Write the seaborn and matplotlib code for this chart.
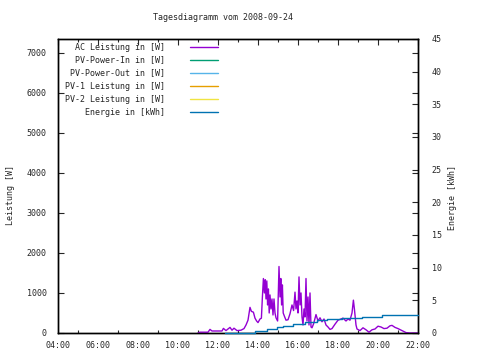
import matplotlib
matplotlib.use("Agg")
import matplotlib.pyplot as plt
import seaborn as sns
import pandas as pd
from matplotlib.ticker import MultipleLocator

# ---- data ----
title = "Tagesdiagramm vom 2008-09-24"
series_names = ["AC Leistung in [W]", "PV-Power-In in [W]", "PV-Power-Out in [W]",
                "PV-1 Leistung in [W]", "PV-2 Leistung in [W]", "Energie in [kWh]"]
series_colors = ["#9400D3", "#009E73", "#56B4E9", "#E69F00", "#F0E442", "#0072B2"]

ac_time = [11.0, 11.1, 11.5, 11.6, 11.7, 12.2, 12.27, 12.4, 12.6, 12.7, 12.8, 12.95, 13.15, 13.3,
           13.4, 13.5, 13.6, 13.67, 13.77, 13.85, 13.93, 14.0, 14.1, 14.17, 14.22, 14.27, 14.32,
           14.36, 14.4, 14.44, 14.48, 14.52, 14.56, 14.6, 14.65, 14.7, 14.75, 14.8, 14.85, 14.9,
           14.98, 15.05, 15.1, 15.14, 15.18, 15.22, 15.26, 15.32, 15.4, 15.5, 15.6, 15.7, 15.78,
           15.85, 15.9, 15.95, 16.0, 16.05, 16.1, 16.15, 16.2, 16.25, 16.3, 16.35, 16.4, 16.45,
           16.5, 16.55, 16.6, 16.65, 16.7, 16.78, 16.9, 17.0, 17.1, 17.2, 17.3, 17.4, 17.5, 17.6,
           17.7, 17.85, 18.0, 18.1, 18.25, 18.4, 18.5, 18.6, 18.7, 18.77, 18.82, 18.9, 18.95, 19.1,
           19.25, 19.4, 19.55, 19.7, 19.85, 20.0, 20.15, 20.3, 20.45, 20.6, 20.7, 20.85, 21.0,
           21.2, 21.4, 21.6, 22.0]
ac_watt = [0, 20, 20, 90, 50, 50, 115, 60, 140, 70, 120, 60, 70, 110,
           200, 320, 640, 540, 520, 370, 300, 260, 350, 370, 900, 1360, 1000,
           1330, 850, 1300, 700, 1100, 500, 950, 600, 850, 450, 850, 500, 380,
           300, 1660, 900, 1360, 700, 1200, 500, 420, 320, 330, 480, 700, 560,
           1020, 600, 800, 500, 1400, 700, 1000, 400, 200, 600, 400, 1360, 300,
           900, 200, 1000, 150, 130, 230, 460, 300, 380, 280, 350, 200, 150, 90,
           110, 220, 320, 340, 370, 300, 350, 320, 500, 820, 600, 200, 100, 60,
           130, 80, 20, 80, 100, 170, 150, 110, 120, 180, 190, 140, 110,
           60, 10, 0, 0]

energy_time = [12.35, 13.85, 14.43, 14.93, 15.27, 15.77, 16.35, 16.93, 17.43, 18.18, 18.6,
               19.18, 20.18, 22.0]
energy_kwh = [0.0, 0.35, 0.65, 0.86, 1.06, 1.37, 1.72, 1.98, 2.08, 2.23, 2.33, 2.48, 2.69, 2.69]

x_ticks = [4, 6, 8, 10, 12, 14, 16, 18, 20, 22]
x_ticklabels = ["04:00", "06:00", "08:00", "10:00", "12:00", "14:00", "16:00", "18:00",
                "20:00", "22:00"]
y1_ticks = [0, 1000, 2000, 3000, 4000, 5000, 6000, 7000]
y2_ticks = [0, 5, 10, 15, 20, 25, 30, 35, 40, 45]

# ---- style ----
sns.set_style("white")
plt.rcParams["font.family"] = ["DejaVu Sans Mono", "DejaVu Sans"]
plt.rcParams["font.size"] = 6

fig = plt.figure(figsize=(4.8, 3.6), dpi=100)
ax = fig.add_axes([58 / 480, 27 / 360, 360 / 480, 294 / 360])
ax2 = ax.twinx()

df_ac = pd.DataFrame({"t": ac_time, "w": ac_watt})
df_en = pd.DataFrame({"t": energy_time, "e": energy_kwh})

sns.lineplot(data=df_ac, x="t", y="w", ax=ax, color=series_colors[0], linewidth=1.0,
             estimator=None, sort=False, clip_on=False, zorder=4)
sns.lineplot(data=df_en, x="t", y="e", ax=ax2, color=series_colors[5], linewidth=1.0,
             estimator=None, sort=False, drawstyle="steps-post", clip_on=False, zorder=4)

ax.set_xlim(4, 22)
ax.set_ylim(0, 7340)
ax2.set_ylim(0, 45)

ax.set_xticks(x_ticks)
ax.set_xticklabels(x_ticklabels)
ax.xaxis.set_minor_locator(MultipleLocator(1))
ax.set_yticks(y1_ticks)
ax.set_yticklabels([str(v) for v in y1_ticks])
ax2.set_yticks(y2_ticks)
ax2.set_yticklabels([str(v) for v in y2_ticks])

ax.tick_params(axis="both", which="major", direction="in", length=4, width=0.8,
               top=True, right=True, labelright=False, pad=8, labelsize=6)
ax.tick_params(axis="x", which="minor", direction="in", length=2, width=0.8,
               top=True, bottom=True)
ax.tick_params(axis="x", pad=6)
ax2.tick_params(axis="y", which="major", direction="in", length=4, width=0.8,
                pad=10, labelsize=6)

for a in (ax, ax2):
    for s in a.spines.values():
        s.set_visible(True)
        s.set_color("black")
        s.set_linewidth(1.0)

ax.set_xlabel("")
ax.set_ylabel("Leistung [W]", fontsize=6)
ax.yaxis.set_label_coords((15 - 58) / 360, (333 - 195) / 294)
ax2.set_ylabel("Energie [kWh]", fontsize=6)
ax2.yaxis.set_label_coords((448 - 58) / 360, (333 - 198) / 294)

fig.text(223 / 480, 1 - 18 / 360, title, ha="center", va="center", fontsize=6)

# ---- key (top-left, right-aligned texts, sample lines) ----
for i, (name, col) in enumerate(zip(series_names, series_colors)):
    yy = 1 - (47 + 13.05 * i - 39) / 294
    ax.text((165 - 58) / 360, yy, name, transform=ax.transAxes, ha="right", va="center",
            fontsize=6)
    ax.plot([(190 - 58) / 360, (218 - 58) / 360], [yy, yy], transform=ax.transAxes,
            color=col, linewidth=1.0, clip_on=False)

fig.savefig("out.png", dpi=100)
